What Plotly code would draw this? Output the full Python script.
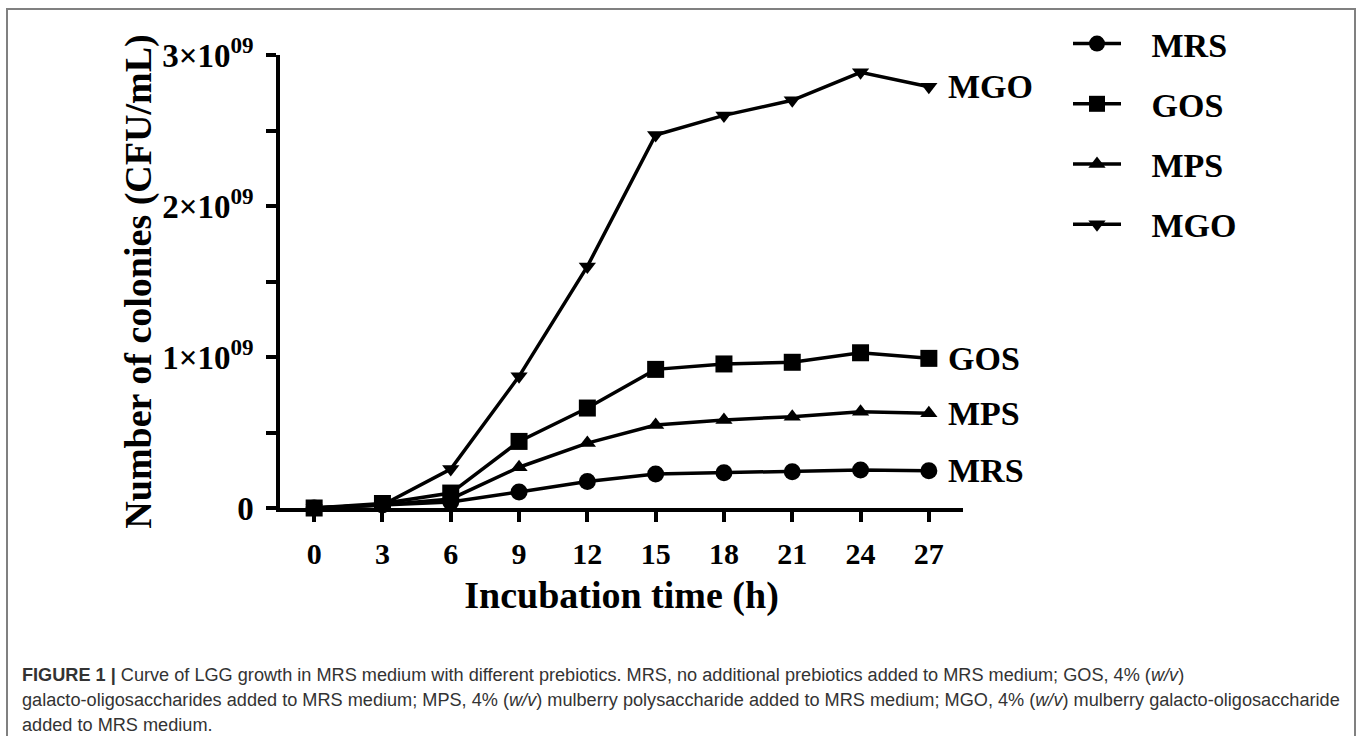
import plotly.graph_objects as go

# Incubation time points (h)
hours = [0, 3, 6, 9, 12, 15, 18, 21, 24, 27]

# Colony counts (CFU/mL) for each medium
mrs = [0.0, 0.02e9, 0.04e9, 0.106e9, 0.176e9, 0.225e9, 0.234e9, 0.240e9, 0.252e9, 0.247e9]
gos = [0.0, 0.03e9, 0.099e9, 0.441e9, 0.662e9, 0.918e9, 0.954e9, 0.965e9, 1.028e9, 0.991e9]
mps = [0.0, 0.02e9, 0.06e9, 0.270e9, 0.430e9, 0.550e9, 0.583e9, 0.605e9, 0.638e9, 0.627e9]
mgo = [0.0, 0.02e9, 0.258e9, 0.872e9, 1.600e9, 2.470e9, 2.600e9, 2.700e9, 2.885e9, 2.790e9]

series_names = ["MRS", "GOS", "MPS", "MGO"]
series_values = [mrs, gos, mps, mgo]
series_symbols = ["circle", "square", "triangle-up", "triangle-down"]
series_sizes = [17, 17, 15, 15]

y_tickvals = [0, 0.5e9, 1e9, 1.5e9, 2e9, 2.5e9, 3e9]
y_ticktext = ["0", "", "1×10<sup>09</sup>", "", "2×10<sup>09</sup>", "", "3×10<sup>09</sup>"]
x_tickvals = hours

caption_lines = [
    "<b>FIGURE 1 |</b> Curve of LGG growth in MRS medium with different prebiotics. MRS, no additional "
    "prebiotics added to MRS medium; GOS, 4% (<i>w/v</i>)",
    "galacto-oligosaccharides added to MRS medium; MPS, 4% (<i>w/v</i>) mulberry polysaccharide added to "
    "MRS medium; MGO, 4% (<i>w/v</i>) mulberry galacto-oligosaccharide",
    "added to MRS medium.",
]

W, H = 1357, 736
L, R, T, B = 280, 963, 55, 508

def paper_x(px):
    return (px - L) / (R - L)

def paper_y(py):
    return (B - py) / (B - T)

SERIF = "Liberation Serif, Times New Roman, serif"
SANS = "Liberation Sans, Arial, Helvetica, sans-serif"
NBSP = "\u00a0"

fig = go.Figure()
for name, vals, sym, sz in zip(series_names, series_values, series_symbols, series_sizes):
    fig.add_trace(go.Scatter(
        x=hours, y=vals, name=NBSP * 3 + name, mode="lines+markers",
        line=dict(color="black", width=3.5),
        marker=dict(symbol=sym, size=sz, color="black"),
        cliponaxis=False, legendgroup=name,
    ))
    # series label at the end of each curve
    fig.add_annotation(
        x=hours[-1], y=vals[-1], text=name, showarrow=False,
        xanchor="left", yanchor="middle", xshift=17,
        font=dict(family=SERIF, size=34, color="black", weight="bold"),
    )

fig.update_xaxes(
    range=[-1.5, 28.5], tickvals=x_tickvals, ticks="outside", ticklen=10, tickwidth=3.5,
    tickcolor="black", showline=True, linecolor="black", linewidth=3.5,
    showgrid=False, zeroline=False, ticklabelstandoff=6,
    tickfont=dict(family=SERIF, size=30, color="black", weight="bold"),
    title=dict(text="Incubation time (h)", standoff=14,
               font=dict(family=SERIF, size=38, color="black", weight="bold")),
)
fig.update_yaxes(
    range=[0, 3e9], tickvals=y_tickvals, ticktext=y_ticktext, ticks="outside", ticklen=10,
    tickwidth=3.5, tickcolor="black", showline=True, linecolor="black", linewidth=3.5,
    showgrid=False, zeroline=False, ticklabelstandoff=6,
    tickfont=dict(family=SERIF, size=33, color="black", weight="bold"),
    title=dict(text="Number of colonies (CFU/mL)", standoff=0,
               font=dict(family=SERIF, size=38, color="black", weight="bold")),
)

# caption lines under the chart
caption_y = [675, 700, 725]
for text, py in zip(caption_lines, caption_y):
    fig.add_annotation(
        xref="paper", yref="paper", x=paper_x(20), y=paper_y(py), text=text,
        showarrow=False, xanchor="left", yanchor="middle", align="left",
        font=dict(family=SANS, size=18.15, color="#333333"),
    )

# outer frame of the figure panel
fig.add_shape(
    type="rect", xref="paper", yref="paper",
    x0=paper_x(7), x1=paper_x(1355), y0=paper_y(745), y1=paper_y(9),
    line=dict(color="#808080", width=2), fillcolor="rgba(0,0,0,0)", layer="below",
)

fig.update_layout(
    width=W, height=H, autosize=False,
    margin=dict(l=L, r=W - R, t=T, b=H - B),
    paper_bgcolor="white", plot_bgcolor="white",
    showlegend=True,
    legend=dict(
        x=paper_x(1068), y=paper_y(15), xanchor="left", yanchor="top",
        traceorder="grouped", tracegroupgap=13, itemwidth=48,
        font=dict(family=SERIF, size=34, color="black", weight="bold"),
        bgcolor="rgba(0,0,0,0)",
    ),
)

fig.write_html("out.html")
